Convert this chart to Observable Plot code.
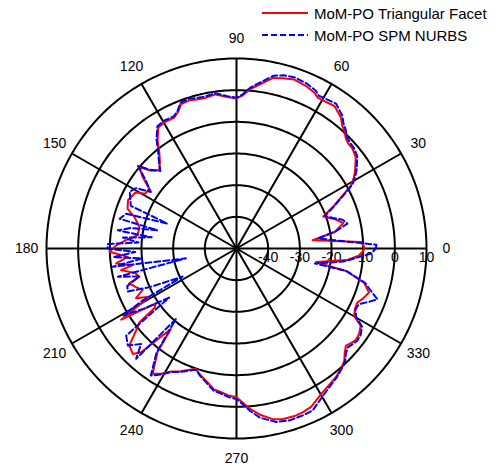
<!DOCTYPE html>
<html>
<head>
<meta charset="utf-8">
<script src="https://cdn.jsdelivr.net/npm/d3@7"></script>
<script src="https://cdn.jsdelivr.net/npm/@observablehq/plot@0.6"></script>
<style>
  body { margin: 0; background: #fff; font-family: "Liberation Sans", Arial, sans-serif; }
  #wrap { position: relative; width: 498px; height: 466px; }
  #wrap svg { display: block; }
  .leg { position: absolute; left: 262px; height: 18px; display: flex; align-items: center; font-size: 15px; color: #000; white-space: nowrap; }
  .leg span { margin-left: 6px; }
</style>
</head>
<body>
<div id="wrap"></div>
<script>
// ---- data (angle in degrees, value in dB) ----
const seriesNames = ["MoM-PO Triangular Facet", "MoM-PO SPM NURBS"];
const seriesColors = ["#ff0000", "#0000ff"];

const red = [
[0,-9.5],[3,-10.5],[6.2,-25.8],[9.5,-18.5],[13.4,-15.3],[16.5,-17.5],[20.3,-20.8],[23.3,-16.9],[26.6,-12.5],[28.8,-8.8],
[31,-6.8],[33.3,-5.2],[37.4,-2.6],[40.6,-1.7],[43,-1.6],[45,-1.1],[47.5,0.4],[49.5,1.3],[51.4,2.9],[55.5,4.6],
[59.2,4.2],[61.7,4.1],[63.4,5.0],[66.8,5.8],[71.1,6.4],[74.7,5.7],[77.9,5.1],[82,2.3],[85.2,0.4],[88,-1.8],
[90,-2.6],[93.5,-2.1],[97.7,-0.9],[102.2,-1.5],[105,-1.3],[107.7,-0.9],[111.1,-1.2],[113,-3],[115.4,-4.2],[119.8,-4.1],
[122.9,-4.5],[126.2,-7.8],[128.8,-11.1],[131.5,-13.5],[134.5,-15.2],[137.7,-13.5],[140,-10],[142.5,-12.5],[145.6,-16.6],[149,-16.4],
[151,-13.5],[156,-12.5],[160,-13.4],[162.9,-16.3],[167.5,-18.6],[172.4,-18.5],[175.7,-15],[178.5,-12],[181.5,-9.9],[184.4,-15.6],
[187.1,-11.7],[189.1,-16.8],[190.6,-12.9],[193.5,-17],[196.2,-18.1],[198,-14.4],[201,-16],[203.8,-17.6],[206.3,-14.6],[209,-18.5],
[211.7,-7.2],[214.2,-19.2],[216,-18],[217.3,-11.4],[219.3,-9.0],[222.2,-4.3],[225.5,-3.3],[227.4,-5.5],[230.8,-17.2],[232.7,-8.8],
[236.2,-2.4],[238.9,-3.8],[242,-6],[245.6,-7.4],[251.3,-9.9],[254,-8.5],[257.7,-6.8],[260.9,-4.9],[263.7,-4.4],[267,-3.5],
[270,-3.0],[274.7,0.7],[278,3],[282,5.1],[285,5.8],[289.1,6.0],[292,5.8],[295.2,5.3],[301,2.9],[304.5,2.0],
[307.7,1.3],[311,0.3],[313.9,-0.9],[316,-2.5],[318.4,-3.8],[320.4,-3.1],[322.5,-2.5],[325.1,-2.8],[328.1,-3.8],[330.2,-7.2],
[333,-8],[335.9,-8.2],[338.5,-7],[341.6,-5.9],[345,-8.3],[348.4,-14.7],[350.3,-24.5],[354,-15],[356.9,-11],[360,-9.5]
];

const blue = [
[0,-6.0],[1.5,-5.8],[7,-24],[10,-18],[12.6,-14.1],[15.2,-15.3],[17.5,-18],[20.3,-20.2],[23.3,-16.5],[26.6,-12],
[28.8,-8.3],[31,-6.3],[33.3,-4.6],[37.4,-2.0],[40.6,-1.2],[43,-1.0],[45,-0.5],[47.5,1.0],[49.5,2.0],[51.4,3.6],
[55.5,5.5],[59.2,5.0],[61.7,4.8],[63.4,5.8],[66.8,6.6],[71.1,7.1],[74.7,6.7],[77.9,5.8],[82,2.9],[85.2,0.9],
[88,-1.5],[90,-2.4],[93.5,-1.8],[97.7,-0.5],[102.2,-1.0],[105,-0.8],[107.7,-0.4],[111.1,-0.7],[113,-2.6],[115.4,-3.8],
[119.8,-3.6],[122.9,-4.0],[126.2,-7.2],[128.8,-10.5],[131.5,-13],[134.5,-15.7],[137.7,-13],[140,-9.4],[143,-14],[146.6,-17.6],
[149,-13],[152,-11.8],[155,-13],[158,-14],[160.2,-26.8],[162.5,-13.5],[165.7,-11.9],[167,-24.4],[169,-16],[171.3,-12.1],
[172.5,-23],[174.5,-14],[176.5,-19],[178,-9.4],[180,-9.2],[182,-18],[184,-11],[186,-20],[188.4,-10.5],[191,-33.7],
[193.4,-11.5],[196,-18],[199,-13.5],[201.6,-13.1],[204,-20],[207.5,-30.8],[209,-16],[210.5,-8.5],[213,-15],[216.1,-23.7],
[218.3,-5.6],[221.8,-4.0],[225,-7.4],[227.7,-2.9],[229.3,-20.6],[232.5,-8.5],[236,-1.6],[238.9,-3.5],[242,-5.8],[245.6,-7.2],
[251.3,-9.6],[254,-8.2],[257.7,-6.4],[260.9,-4.5],[263.7,-4.0],[267,-3.0],[270,-2.5],[274.7,1.4],[278,4],[282.9,6.2],
[287.2,6.8],[292,6.7],[295.2,6.5],[301,3.7],[304.5,2.5],[307.7,1.6],[311,0.5],[313.9,-0.5],[316,-2.0],[318.4,-3.0],
[320.4,-2.5],[322.7,-2.0],[325.1,-2.2],[328.1,-3.3],[330.2,-6.5],[333,-7.8],[335.6,-7.5],[338,-5],[340.2,-2.7],[342.5,-5.5],
[345,-8.0],[348.4,-14.5],[349.2,-24.8],[353,-16],[357.9,-7.4],[360,-6.0]
];

const ringDb = [-40, -30, -20, -10, 0, 10];
const ringLabels = ["-40", "-30", "-20", "-10", "0", "10"];
const spokeAngles = [0, 30, 60, 90, 120, 150, 180, 210, 240, 270, 300, 330];
const angleLabels = ["0", "30", "60", "90", "120", "150", "180", "210", "240", "270", "300", "330"];

// ---- polar mapping via an azimuthal-equidistant projection centred on the pole ----
const dbMin = -50, dbMax = 10;
const lon = a => a + 90;            // math angle -> projection longitude
const lat = db => 90 - (db - dbMin); // dB -> latitude (distance from centre)
const labelDist = 16.3;              // angle labels just outside the outer ring (in dB units)

const chart = Plot.plot({
  width: 498,
  height: 466,
  marginLeft: 46,
  marginRight: 72,
  marginTop: 58,
  marginBottom: 28,
  style: { fontFamily: "Liberation Sans, Arial, sans-serif", fontSize: "14px", background: "#fff", color: "#000", overflow: "visible" },
  projection: {
    type: "azimuthal-equidistant",
    rotate: [0, -90],
    clip: false,
    domain: d3.geoCircle().center([0, 90]).radius(dbMax - dbMin)()
  },
  marks: [
    Plot.geo(ringDb, {
      geometry: d => d3.geoCircle().center([0, 90]).radius(d - dbMin).precision(1)(),
      stroke: "#000", strokeWidth: 2, fill: "none"
    }),
    Plot.link(spokeAngles, {
      x1: a => lon(a), y1: 90, x2: a => lon(a), y2: lat(dbMax),
      stroke: "#000", strokeWidth: 2
    }),
    Plot.text(spokeAngles, {
      x: a => lon(a), y: lat(labelDist), text: (a, i) => angleLabels[i],
      fontSize: 14, fill: "#000"
    }),
    Plot.text(ringDb, {
      x: lon(0), y: d => lat(d), text: (d, i) => ringLabels[i],
      dy: 9, fontSize: 14, fill: "#000"
    }),
    Plot.line(red, {
      x: d => lon(d[0]), y: d => lat(d[1]),
      stroke: seriesColors[0], strokeWidth: 2, curve: "linear"
    }),
    Plot.line(blue, {
      x: d => lon(d[0]), y: d => lat(d[1]),
      stroke: seriesColors[1], strokeWidth: 2, strokeDasharray: "6,3", curve: "linear"
    })
  ]
});

const wrap = document.getElementById("wrap");
wrap.appendChild(chart);

// legend (HTML, top-right)
seriesNames.forEach((name, i) => {
  const row = document.createElement("div");
  row.className = "leg";
  row.style.top = (4 + i * 22) + "px";
  const dash = i === 1 ? ' stroke-dasharray="6,3"' : "";
  row.innerHTML = `<svg width="46" height="4"><line x1="0" y1="2" x2="46" y2="2" stroke="${seriesColors[i]}" stroke-width="2"${dash}/></svg><span>${name}</span>`;
  wrap.appendChild(row);
});
</script>
</body>
</html>
